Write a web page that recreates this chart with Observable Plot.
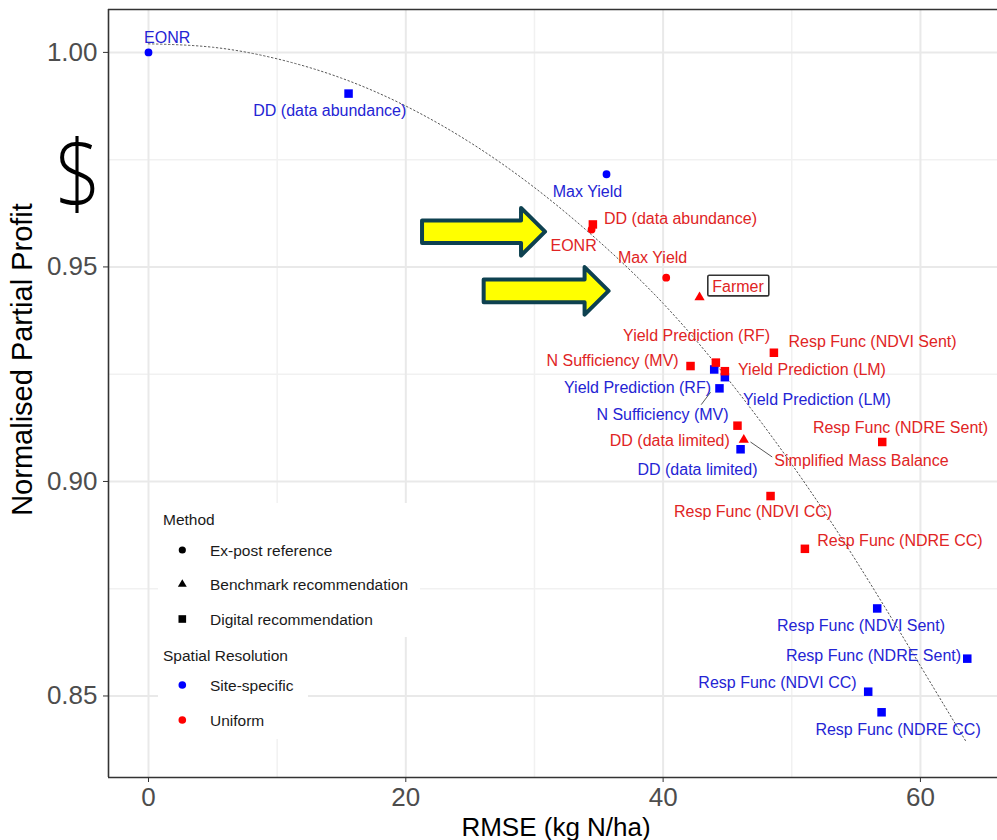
<!DOCTYPE html>
<html>
<head>
<meta charset="utf-8">
<script src="https://cdn.jsdelivr.net/npm/d3@7"></script>
<script src="https://cdn.jsdelivr.net/npm/@observablehq/plot@0.6"></script>
<style>
  body { margin: 0; background: #fff; }
  #chart svg { display: block; }
</style>
</head>
<body>
<div id="chart"></div>
<script>
// ---------- data ----------
const names = [
  "EONR", "DD (data abundance)", "Max Yield", "Yield Prediction (RF)", "Yield Prediction (LM)",
  "N Sufficiency (MV)", "DD (data limited)", "Resp Func (NDVI Sent)", "Resp Func (NDRE Sent)",
  "Resp Func (NDVI CC)", "Resp Func (NDRE CC)",
  "DD (data abundance)", "EONR", "Max Yield", "Farmer", "Resp Func (NDVI Sent)", "N Sufficiency (MV)",
  "Yield Prediction (RF)", "Yield Prediction (LM)", "DD (data limited)", "Simplified Mass Balance",
  "Resp Func (NDRE Sent)", "Resp Func (NDVI CC)", "Resp Func (NDRE CC)"
];
const rmse = [0, 15.55, 35.60, 43.97, 44.80, 44.38, 46.02, 56.64, 63.64, 55.94, 56.98,
  34.54, 34.44, 40.24, 42.83, 48.61, 42.13, 44.10, 44.80, 45.78, 46.27, 57.03, 48.35, 51.02];
const profit = [1.000, 0.9904, 0.9716, 0.9261, 0.9243, 0.9217, 0.9075, 0.8704, 0.8587, 0.8510, 0.8462,
  0.9599, 0.9587, 0.9475, 0.9429, 0.9300, 0.9269, 0.9277, 0.9257, 0.9130, 0.9097, 0.9092, 0.8966, 0.8843];
const EX = "Ex-post reference", BM = "Benchmark recommendation", DG = "Digital recommendation";
const methods = [EX, DG, EX, DG, DG, DG, DG, DG, DG, DG, DG,
  DG, EX, EX, BM, DG, DG, DG, DG, DG, BM, DG, DG, DG];
const SS = "Site-specific", UN = "Uniform";
const resolutions = [SS, SS, SS, SS, SS, SS, SS, SS, SS, SS, SS,
  UN, UN, UN, UN, UN, UN, UN, UN, UN, UN, UN, UN, UN];
// label positions (ggrepel-like), data units
const labelX = [1.45, 14.09, 34.12, 38.01, 51.96, 39.95, 42.67, 55.38, 56.35, 48.89, 58.26,
  41.35, 33.04, 39.18, 45.82, 56.28, 36.07, 42.60, 51.57, 40.52, 55.42, 58.45, 46.99, 58.41];
const labelY = [1.0034, 0.9864, 0.9676, 0.9217, 0.9190, 0.9155, 0.9028, 0.8664, 0.8594, 0.8531, 0.8422,
  0.9611, 0.9548, 0.9520, 0.9453, 0.9326, 0.9280, 0.9340, 0.9259, 0.9094, 0.9047, 0.9126, 0.8928, 0.8862];
// leader segments
const leaderX1 = [42.96, 46.79], leaderY1 = [0.9179, 0.9092];
const leaderX2 = [43.69, 48.48], leaderY2 = [0.9208, 0.9057];
// dotted trend curve
const curveX = [0, 5, 10, 15, 20, 25, 30, 35, 40, 45, 50, 55, 60, 63.5];
const curveY = [1.0020, 1.0012, 0.9985, 0.9940, 0.9875, 0.9790, 0.9685, 0.9560, 0.9415, 0.9240, 0.9040, 0.8815, 0.8570, 0.8396];
// annotation arrows
const arrowTailX = [21.3, 26.09], arrowTipX = [30.86, 35.80], arrowY = [0.9581, 0.9443];
const dollarText = "$", dollarX = -5.44, dollarY = 0.9639;
const boxedLabel = "Farmer";
// axes
const xDomain = [-3.109, 65.99], yDomain = [0.8310, 1.0100];
const xTicks = [0, 20, 40, 60], xMinor = [10, 30, 50];
const yTicks = [0.85, 0.90, 0.95, 1.00], yMinor = [0.875, 0.925, 0.975];
const xTitle = "RMSE (kg N/ha)", yTitle = "Normalised Partial Profit";
const methodLevels = [EX, BM, DG];
const resolutionLevels = [SS, UN];
const methodTitle = "Method", resolutionTitle = "Spatial Resolution";

const points = names.map((n, i) => ({
  name: n, rmse: rmse[i], profit: profit[i], method: methods[i], resolution: resolutions[i],
  lx: labelX[i], ly: labelY[i]
}));
const curve = curveX.map((x, i) => ({x, y: curveY[i]}));
const leaders = leaderX1.map((x, i) => ({x1: x, y1: leaderY1[i], x2: leaderX2[i], y2: leaderY2[i]}));
const arrows = arrowTailX.map((x, i) => ({x1: x, x2: arrowTipX[i], y: arrowY[i]}));

const FONT = "'Liberation Sans', Arial, Helvetica, sans-serif";
const BLUE_TXT = "#2424d4", RED_TXT = "#e02424";

// ---------- custom render marks ----------
function arrowMark(index, scales) {
  const g = d3.create("svg:g");
  for (const a of arrows) {
    const x1 = scales.x(a.x1), x2 = scales.x(a.x2), cy = scales.y(a.y);
    const sh = 11.3, hh = 23.8, hl = 24;
    const pts = [[x1, cy - sh], [x2 - hl, cy - sh], [x2 - hl, cy - hh], [x2, cy],
      [x2 - hl, cy + hh], [x2 - hl, cy + sh], [x1, cy + sh]];
    g.append("polygon").attr("points", pts.map(p => p.join(",")).join(" "))
      .attr("fill", "#ffff00").attr("stroke", "#0e4150").attr("stroke-width", 4)
      .attr("stroke-linejoin", "round");
  }
  return g.node();
}

function dollarMark(index, scales) {
  const g = d3.create("svg:g");
  g.append("text")
    .attr("transform", `translate(${scales.x(dollarX)},${scales.y(dollarY)}) scale(0.86,1)`)
    .attr("text-anchor", "middle")
    .attr("font-family", "'Open Sans', sans-serif")
    .attr("font-weight", 300)
    .attr("font-size", 94)
    .attr("fill", "#000")
    .text(dollarText);
  return g.node();
}

function boxMark(index, scales) {
  const g = d3.create("svg:g");
  const p = points.find(d => d.name === boxedLabel);
  const cx = scales.x(p.lx) + 0.8, cy = scales.y(p.ly) - 1;
  g.append("rect").attr("x", cx - 30.5).attr("y", cy - 10.3).attr("width", 61).attr("height", 20.6)
    .attr("rx", 1.5).attr("fill", "#fff").attr("stroke", "#333").attr("stroke-width", 1.6);
  return g.node();
}

function legendMark() {
  const g = d3.create("svg:g").attr("font-family", FONT).attr("font-size", 15.5)
    .attr("fill", "#1a1a1a").attr("text-anchor", "start");
  g.append("rect").attr("x", 158).attr("y", 503).attr("width", 262).attr("height", 134).attr("fill", "#fff");
  g.append("rect").attr("x", 158).attr("y", 637).attr("width", 150).attr("height", 102).attr("fill", "#fff");
  const sx = 182.3, tx = 210;
  g.append("text").attr("x", 163).attr("y", 525).attr("text-anchor", "start").text(methodTitle);
  const symMap = {[EX]: [d3.symbolCircle, 3.6], [BM]: [d3.symbolTriangle, 3.3], [DG]: [d3.symbolSquare, 4.3]};
  const mY = [550, 584.3, 619];
  methodLevels.forEach((m, i) => {
    const [s, r] = symMap[m];
    g.append("path").attr("transform", `translate(${sx},${mY[i]})`)
      .attr("d", d3.symbol(s, Math.PI * r * r)()).attr("fill", "#000");
    g.append("text").attr("x", tx).attr("y", mY[i] + 5.5).attr("text-anchor", "start").text(m);
  });
  g.append("text").attr("x", 163).attr("y", 660.5).attr("text-anchor", "start").text(resolutionTitle);
  const rY = [685, 720];
  const rCol = {[SS]: "#0000ff", [UN]: "#ff0000"};
  resolutionLevels.forEach((r, i) => {
    g.append("circle").attr("cx", sx).attr("cy", rY[i]).attr("r", 3.8).attr("fill", rCol[r]);
    g.append("text").attr("x", tx).attr("y", rY[i] + 5.5).attr("text-anchor", "start").text(r);
  });
  return g.node();
}

// ---------- plot ----------
const dotCommon = {x: "rmse", y: "profit", symbol: "method", fill: "resolution"};
const chart = Plot.plot({
  width: 997,
  height: 840,
  marginLeft: 108,
  marginRight: 0,
  marginTop: 9,
  marginBottom: 63,
  style: {fontFamily: FONT, background: "#fff", overflow: "visible"},
  x: {domain: xDomain},
  y: {domain: yDomain},
  symbol: {domain: methodLevels, range: ["circle", "triangle", "square"]},
  color: {domain: resolutionLevels, range: ["#0000ff", "#ff0000"]},
  marks: [
    Plot.gridX(xMinor, {stroke: "#f1f1f1", strokeOpacity: 1, strokeWidth: 1.5}),
    Plot.gridY(yMinor, {stroke: "#f1f1f1", strokeOpacity: 1, strokeWidth: 1.5}),
    Plot.gridX(xTicks, {stroke: "#e9e9e9", strokeOpacity: 1, strokeWidth: 2}),
    Plot.gridY(yTicks, {stroke: "#e9e9e9", strokeOpacity: 1, strokeWidth: 2}),
    legendMark,
    Plot.ruleX([xDomain[0]], {stroke: "#333", strokeWidth: 1.6}),
    Plot.ruleY([yDomain[0], yDomain[1]], {stroke: "#333", strokeWidth: 1.6}),
    Plot.axisX(xTicks, {anchor: "bottom", tickSize: 5, tickPadding: 5, fontSize: 26, stroke: "#333", fill: "#4d4d4d", label: null}),
    Plot.axisY(yTicks, {anchor: "left", tickSize: 5, tickPadding: 6, fontSize: 26, stroke: "#333", fill: "#4d4d4d", label: null, tickFormat: d3.format(".2f")}),
    Plot.text([xTitle], {text: d => d, frameAnchor: "bottom", dy: 50, dx: 3, lineAnchor: "middle", fontSize: 26, fill: "#000"}),
    Plot.text([yTitle], {text: d => d, frameAnchor: "left", dx: -86, dy: -34, rotate: -90, textAnchor: "middle", lineAnchor: "middle", fontSize: 29, fill: "#000"}),
    Plot.line(curve, {x: "x", y: "y", curve: "natural", stroke: "#555", strokeWidth: 1, strokeDasharray: "1.5,2.5"}),
    Plot.link(leaders, {x1: "x1", y1: "y1", x2: "x2", y2: "y2", stroke: "#444", strokeWidth: 0.9}),
    Plot.dot(points, {...dotCommon, filter: d => d.method === EX, r: 3.9}),
    Plot.dot(points, {...dotCommon, filter: d => d.method === BM, r: 3.8}),
    Plot.dot(points, {...dotCommon, filter: d => d.method === DG, r: 4.8}),
    boxMark,
    Plot.text(points, {filter: d => d.resolution === SS, x: "lx", y: "ly", text: "name", fill: BLUE_TXT, fontSize: 16, lineAnchor: "middle"}),
    Plot.text(points, {filter: d => d.resolution === UN, x: "lx", y: "ly", text: "name", fill: RED_TXT, fontSize: 16, lineAnchor: "middle"}),
    arrowMark,
    dollarMark
  ]
});
document.getElementById("chart").appendChild(chart);
</script>
</body>
</html>
